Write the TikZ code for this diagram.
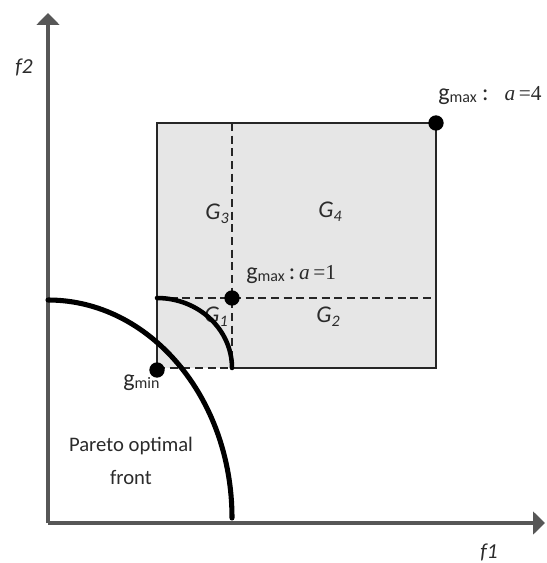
\documentclass[tikz,border=0pt]{standalone}
\usepackage{fontspec}
\setmainfont{Carlito}
\newfontfamily\timesfont{Liberation Serif}
\usetikzlibrary{positioning,arrows.meta}
\definecolor{regiongray}{HTML}{E6E6E6}
\definecolor{axisgray}{HTML}{575757}
\definecolor{textgray}{HTML}{2B2B2B}
\newcommand{\gsubscr}[1]{\raisebox{-1.5pt}{\fontsize{12}{12}\selectfont #1}}
\newcommand{\regsub}[1]{\raisebox{-3pt}{\fontsize{12}{12}\selectfont #1}}

\begin{document}
\begin{tikzpicture}[x=0.75pt, y=-0.75pt,
    axisLine/.style={draw=axisgray, line width=2.4pt, -{Triangle[width=17pt, length=9pt]}},
    boxEdge/.style={draw=black!85, line width=1.1pt},
    boxDash/.style={draw=black!85, line width=1.1pt, dash pattern=on 6pt off 3.5pt},
    frontLine/.style={draw=black, line width=3.8pt, line cap=round},
    dotNode/.style={circle, fill=black, inner sep=0pt, minimum size=11.5pt},
    regionLabel/.style={font=\fontsize{18}{18}\selectfont\itshape, text=textgray, inner sep=0pt},
    axisLabel/.style={font=\fontsize{16}{16}\selectfont\itshape, text=textgray, inner sep=0pt},
    pointLabel/.style={font=\fontsize{18}{18}\selectfont, text=textgray, inner sep=0pt, anchor=base west}
]
    \useasboundingbox (0,0) rectangle (546,563);

    % axes
    \coordinate (origin) at (48,523);
    \coordinate (yTip) at (48,13);
    \coordinate (xTip) at (545,523);
    \draw[axisLine] (origin) -- (yTip);
    \draw[axisLine] (origin) -- (xTip);
    \node[axisLabel] (fTwo) at (24,67) {f2};
    \node[axisLabel] (fOne) at (489,552) {f1};

    % region box
    \coordinate (boxSW) at (157,368);
    \coordinate (boxNE) at (436,123);
    \coordinate (split) at (232,298);
    \fill[regiongray] (boxSW) rectangle (boxNE);
    \draw[boxDash] (split |- boxNE) -- (split |- boxSW);
    \draw[boxDash] (boxSW |- split) -- (boxNE |- split);
    \draw[boxDash] (boxSW) -- (split |- boxSW);
    \draw[boxEdge] (split |- boxSW) -- (boxNE |- boxSW) -- (boxNE) -- (boxSW |- boxNE) -- (boxSW);

    \node[regionLabel] (regThree) at (217,214) {G\regsub{3}};
    \node[regionLabel] (regFour) at (330,212) {G\regsub{4}};
    \node[regionLabel] (regOne) at (216,317) {G\regsub{1}};
    \node[regionLabel] (regTwo) at (328,317) {G\regsub{2}};

    % fronts
    \coordinate (frontStart) at (48,300);
    \coordinate (subFrontStart) at (157,298);
    \draw[frontLine] (frontStart) arc[start angle=-90, end angle=0, x radius=184, y radius=218];
    \draw[frontLine, line width=3.4pt] (subFrontStart) arc[start angle=-90, end angle=0, x radius=75, y radius=70];

    % points
    \node[dotNode] (gmaxFour) at (436,123) {};
    \node[dotNode] (gmaxOne) at (232,298) {};
    \node[dotNode] (gmin) at (157,370) {};
    \node[pointLabel] (gmaxFourLabel) at (438,101) {g\gsubscr{max}\ :\hspace{12pt}{\timesfont\fontsize{16}{16}\selectfont\itshape a}{\timesfont\fontsize{16}{16}\selectfont\,=4}};
    \node[pointLabel] (gmaxOneLabel) at (246,279) {g\gsubscr{max}\,:\,{\timesfont\fontsize{16}{16}\selectfont\itshape a}{\timesfont\fontsize{16}{16}\selectfont\,=1}};
    \node[pointLabel] (gminLabel) at (123,386) {g\gsubscr{min}};

    \node[font=\fontsize{15.5}{25}\selectfont, align=center, text=textgray] (paretoLabel) at (131,461) {Pareto optimal\\front};
\end{tikzpicture}
\end{document}
